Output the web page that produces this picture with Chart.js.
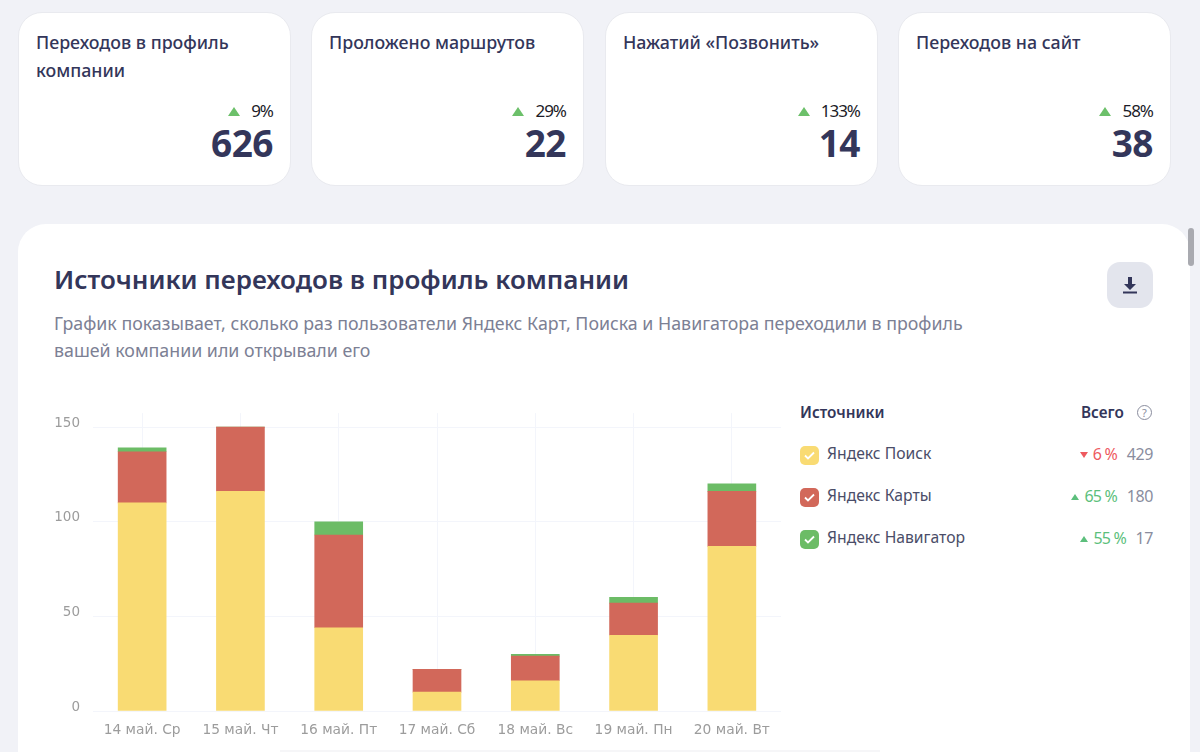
<!DOCTYPE html>
<html lang="ru">
<head>
<meta charset="utf-8">
<title>Источники переходов</title>
<script src="https://cdn.jsdelivr.net/npm/chart.js@4"></script>
<style>
    html, body { margin: 0; height: 100%; overflow: hidden; }
    body { position: relative; width: 1200px; height: 752px; background: #f1f2f7; font-family: "Noto Sans", sans-serif; color: #33365a; }
    .kpi { position: absolute; top: 12px; width: 273px; height: 174px; box-sizing: border-box; background: #fff; border: 1px solid #e9eaef; border-radius: 24px; }
    .kpi .name { position: absolute; left: 17px; top: 15px; width: 235px; font-size: 17.8px; font-weight: 500; line-height: 28px; }
    .kpi .delta { position: absolute; right: 17px; top: 87px; font-size: 17px; color: #1c1c28; line-height: 22px; letter-spacing: -1px; }
    .kpi .delta i { display: inline-block; width: 0; height: 0; margin-right: 11px; vertical-align: 1px; border: 6.5px solid transparent; border-top: 0; border-bottom: 9px solid #6cc06a; }
    .kpi .num { position: absolute; right: 17px; top: 105px; font-size: 37px; font-weight: 700; line-height: 50px; letter-spacing: -0.5px; }
    #panel { position: absolute; left: 18px; top: 224px; width: 1172px; height: 560px; background: #fff; border-radius: 28px 28px 0 0; }
    #title { position: absolute; left: 54px; top: 260px; font-size: 26px; font-weight: 600; line-height: 38px; white-space: nowrap; }
    #subtitle { position: absolute; left: 54px; top: 310px; width: 950px; font-size: 17.8px; line-height: 27px; color: #7c8094; white-space: nowrap; }
    #download { position: absolute; left: 1107px; top: 262px; width: 46px; height: 46px; border-radius: 13px; background: #e3e5ed; }
    #download svg { position: absolute; left: 15px; top: 14px; }
    #chartBox { position: absolute; left: 40px; top: 392px; width: 741px; height: 360px; }
    .lg { position: absolute; white-space: nowrap; }
    .lgHead { font-size: 15.3px; font-weight: 600; line-height: 20px; top: 402px; }
    .check { position: absolute; left: 800px; width: 19px; height: 19px; border-radius: 5px; }
    .check svg { position: absolute; left: 4px; top: 5px; }
    .srcName { left: 827px; font-size: 15.7px; line-height: 22px; color: #4a4d68; }
    .srcTotal { right: 47px; font-size: 16px; line-height: 22px; color: #8a8d9e; letter-spacing: -0.4px; }
    .srcDelta { font-size: 16px; line-height: 22px; letter-spacing: -0.8px; }
    .srcDelta i { display: inline-block; width: 0; height: 0; margin-right: 5px; vertical-align: 2px; border: 4px solid transparent; }
    .up { color: #5cbf7c; }
    .up i { border-top: 0; border-bottom: 6px solid #5cbf7c; }
    .down { color: #ee5a5f; }
    .down i { border-bottom: 0; border-top: 6px solid #ee5a5f; }
    #help { position: absolute; left: 1137px; top: 405px; width: 15px; height: 15px; box-sizing: border-box; border: 1.3px solid #8a8d9e; border-radius: 50%; font-size: 11px; line-height: 13px; text-align: center; color: #8a8d9e; }
    #scrollbar { position: absolute; left: 1188px; top: 228px; width: 6px; height: 38px; border-radius: 3px; background: #a9aab0; }
    #popupEdge { position: absolute; left: 280px; top: 750px; width: 600px; height: 2px; background: #f6f6f8; }
</style>
</head>
<body>
<div id="panel"></div>
<div id="title">Источники переходов в профиль компании</div>
<div id="subtitle">График показывает, сколько раз пользователи Яндекс Карт, Поиска и Навигатора переходили в профиль<br>вашей компании или открывали его</div>
<div id="download"><svg width="16" height="18" viewBox="0 0 16 18"><path d="M6 1h4v7h4l-6 6-6-6h4z M1 15.5h14v2H1z" fill="#33365a"/></svg></div>
<div id="chartBox"><canvas id="chart"></canvas></div>
<div id="popupEdge"></div>
<div class="lg lgHead" style="left:800px">Источники</div>
<div class="lg lgHead" style="left:1081px">Всего</div>
<div id="help">?</div>
<div id="scrollbar"></div>

<script>
// KPI cards
const kpiNames = ['Переходов в профиль компании', 'Проложено маршрутов', 'Нажатий «Позвонить»', 'Переходов на сайт'];
const kpiDeltas = ['9%', '29%', '133%', '58%'];
const kpiValues = ['626', '22', '14', '38'];

// Chart data
const days = ['14 май. Ср', '15 май. Чт', '16 май. Пт', '17 май. Сб', '18 май. Вс', '19 май. Пн', '20 май. Вт'];
const searchValues = [110, 116, 44, 10, 16, 40, 87];
const mapsValues = [27, 34, 49, 12, 13, 17, 29];
const navigatorValues = [2, 0, 7, 0, 1, 3, 4];
const yTicks = [0, 50, 100, 150];

// Legend
const sourceNames = ['Яндекс Поиск', 'Яндекс Карты', 'Яндекс Навигатор'];
const sourceColors = ['#f9db73', '#d2685a', '#6cbc66'];
const sourceDeltas = ['6 %', '65 %', '55 %'];
const sourceDirections = ['down', 'up', 'up'];
const sourceTotals = ['429', '180', '17'];

const kpiLefts = [18, 311, 605, 898];
kpiNames.forEach((name, i) => {
    const card = document.createElement('div');
    card.className = 'kpi';
    card.style.left = kpiLefts[i] + 'px';
    card.innerHTML = `<div class="name">${name}</div><div class="delta"><i></i>${kpiDeltas[i]}</div><div class="num">${kpiValues[i]}</div>`;
    document.body.appendChild(card);
});

const rowTops = [444, 486, 528];
const deltaRights = [83, 83, 74];
sourceNames.forEach((name, i) => {
    const top = rowTops[i];
    document.body.insertAdjacentHTML('beforeend', `
        <div class="check" style="top:${top + 2}px;background:${sourceColors[i]}"><svg width="11" height="9" viewBox="0 0 11 9"><path d="M1 4.5l3 3 6-6" fill="none" stroke="#fff" stroke-width="1.8"/></svg></div>
        <div class="lg srcName" style="top:${top - 2}px">${name}</div>
        <div class="lg srcDelta ${sourceDirections[i]}" style="top:${top - 1}px;right:${deltaRights[i]}px"><i></i>${sourceDeltas[i]}</div>
        <div class="lg srcTotal" style="top:${top - 1}px">${sourceTotals[i]}</div>`);
});

const gridColor = '#f3f5fb';
new Chart(document.getElementById('chart'), {
    type: 'bar',
    data: {
        labels: days,
        datasets: [
            { label: sourceNames[0], data: searchValues, backgroundColor: sourceColors[0] },
            { label: sourceNames[1], data: mapsValues, backgroundColor: sourceColors[1] },
            { label: sourceNames[2], data: navigatorValues, backgroundColor: sourceColors[2] }
        ]
    },
    options: {
        responsive: true,
        maintainAspectRatio: false,
        animation: false,
        barThickness: 48,
        layout: { autoPadding: false, padding: { top: 13 } },
        scales: {
            x: {
                stacked: true,
                grid: { color: gridColor, offset: false, drawTicks: false },
                border: { display: false },
                ticks: { color: '#9c9c9c', padding: 11, maxRotation: 0, font: { family: 'DejaVu Sans', size: 13.8 } },
                afterFit: scale => { scale.height = 41; }
            },
            y: {
                stacked: true,
                min: 0,
                max: 157.4,
                bounds: 'data',
                afterBuildTicks: scale => { scale.ticks = yTicks.map(value => ({ value })); },
                grid: { color: gridColor, drawTicks: false },
                border: { display: false },
                ticks: { color: '#9c9c9c', padding: 13, labelOffset: -4, font: { family: 'DejaVu Sans', size: 13.5 } },
                afterFit: scale => { scale.width = 53; }
            }
        },
        plugins: { legend: { display: false }, tooltip: { enabled: false } }
    }
});
</script>
</body>
</html>
